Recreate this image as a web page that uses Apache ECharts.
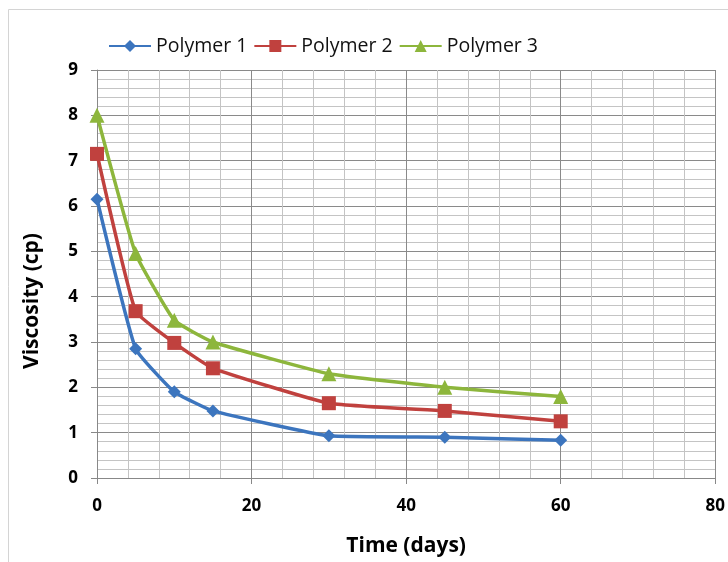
<!DOCTYPE html>
<html><head><meta charset="utf-8">
<script src="https://cdn.jsdelivr.net/npm/echarts@6/dist/echarts.min.js"></script>
<style>html,body{margin:0;padding:0;background:#fff}#c{width:728px;height:562px}</style>
</head><body><div id="c"></div>
<script>
const days = [0, 5, 10, 15, 30, 45, 60];
const polymer1 = [6.15, 2.85, 1.9, 1.48, 0.93, 0.9, 0.83];
const polymer2 = [7.15, 3.68, 2.98, 2.42, 1.65, 1.48, 1.25];
const polymer3 = [8.0, 4.95, 3.48, 3.0, 2.3, 2.0, 1.8];
const seriesNames = ['Polymer 1', 'Polymer 2', 'Polymer 3'];
const colors = ['#3C75BE', '#C0413E', '#8DB63C'];
const symbols = ['diamond', 'rect', 'triangle'];
const sizes = [13, 14, 15];
const vals = [polymer1, polymer2, polymer3];
const font = '"Open Sans", "Liberation Sans", sans-serif';

const chart = echarts.init(document.getElementById('c'));
chart.setOption({
  animation: false,
  backgroundColor: '#fff',
  graphic: [
    {type: 'rect', shape: {x: 8.5, y: 9.5, width: 740, height: 580}, style: {fill: 'none', stroke: '#d4d4d4', lineWidth: 1}, z: -1},
    {type: 'text', x: 32, y: 301, rotation: Math.PI / 2, style: {text: 'Viscosity (cp)', font: 'bold 21px ' + font, fill: '#000', align: 'center', verticalAlign: 'middle'}}
  ],
  legend: {
    left: 103, top: 31, itemGap: 6, itemWidth: 42, itemHeight: 15,
    textStyle: {fontFamily: font, fontSize: 19.5, color: '#111'},
    data: seriesNames
  },
  grid: {left: 97, right: 6, top: 70, bottom: 83},
  xAxis: {
    type: 'value', min: 0, max: 80, interval: 20,
    name: 'Time (days)', nameLocation: 'middle', nameGap: 58,
    nameTextStyle: {fontFamily: font, fontSize: 21, fontWeight: 'bold', color: '#000'},
    axisLine: {show: true, lineStyle: {color: '#888', width: 1}},
    axisTick: {show: true, length: 6, lineStyle: {color: '#888'}},
    axisLabel: {margin: 20, fontFamily: font, fontSize: 17, fontWeight: 'bold', color: '#000'},
    splitLine: {show: true, lineStyle: {color: '#8a8a8a', width: 1}},
    minorTick: {show: false, splitNumber: 5},
    minorSplitLine: {show: true, lineStyle: {color: '#c4c4c4', width: 1}}
  },
  yAxis: {
    type: 'value', min: 0, max: 9, interval: 1,
    axisLine: {show: true, lineStyle: {color: '#888', width: 1}},
    axisTick: {show: true, length: 6, lineStyle: {color: '#888'}},
    axisLabel: {margin: 19, fontFamily: font, fontSize: 17, fontWeight: 'bold', color: '#000'},
    splitLine: {show: true, lineStyle: {color: '#8a8a8a', width: 1}},
    minorTick: {show: false, splitNumber: 5},
    minorSplitLine: {show: true, lineStyle: {color: '#c4c4c4', width: 1}}
  },
  series: seriesNames.map((n, i) => ({
    name: n, type: 'line', smooth: 0.12,
    data: days.map((d, j) => [d, vals[i][j]]),
    symbol: symbols[i], symbolSize: sizes[i],
    lineStyle: {color: colors[i], width: 3.5},
    itemStyle: {color: colors[i]}
  }))
});
</script></body></html>
